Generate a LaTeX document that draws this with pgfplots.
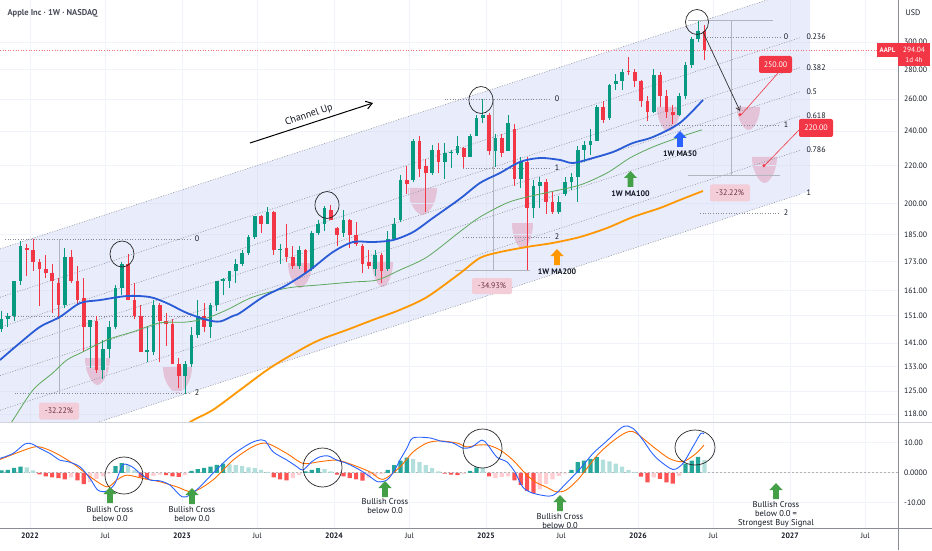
\documentclass[border=0pt]{standalone}
\usepackage{fontspec}
\setmainfont{PT Sans}
\usepackage{pgfplots}
\pgfplotsset{compat=1.18}
\usetikzlibrary{arrows.meta}
\definecolor{bull}{HTML}{089981}
\definecolor{bear}{HTML}{F23645}
\definecolor{gridc}{HTML}{F0F3FA}
\definecolor{chfill}{HTML}{D1D9F7}
\definecolor{chl}{HTML}{9598A1}
\definecolor{fibl}{HTML}{878A94}
\definecolor{measl}{HTML}{B2B5BE}
\definecolor{ma50}{HTML}{2A5BD7}
\definecolor{ma100}{HTML}{5DA85D}
\definecolor{ma200}{HTML}{FF9800}
\definecolor{macdc}{HTML}{2962FF}
\definecolor{sigc}{HTML}{FF6D00}
\definecolor{hdt}{HTML}{26A69A}
\definecolor{hlt}{HTML}{B2DFDB}
\definecolor{hdr}{HTML}{FF5252}
\definecolor{hlr}{HTML}{FFCDD2}
\definecolor{txt}{HTML}{131722}
\definecolor{titc}{HTML}{4A4E5A}
\definecolor{pctc}{HTML}{F3CDD8}
\definecolor{pcttxt}{HTML}{6B3040}
\definecolor{shieldc}{HTML}{F8AEB9}
\definecolor{agreen}{HTML}{43A047}
\definecolor{ablue}{HTML}{2962FF}
\definecolor{aorange}{HTML}{FF9800}
\definecolor{sepc}{HTML}{D1D4DC}
\definecolor{axc}{HTML}{8A8D96}

\newcommand\cndl[5]{%
  \ifdim #5pt<#2pt\def\cc{bear}\else\def\cc{bull}\fi
  \edef\next{\noexpand\addplot[draw=\cc,line width=0.8pt,forget plot] coordinates {(#1,#4)(#1,#3)};%
  \noexpand\addplot[draw=\cc,line width=3.6pt,forget plot] coordinates {(#1,#2)(#1,#5)};}%
  \next}
\newcommand\shieldp[4]{% x, ytop, half width, height (pixel frame)
  \fill[shieldc] ({#1-#3},#2) -- ({#1+#3},#2)
    .. controls ({#1+#3},{#2+0.6*#4}) and ({#1+0.35*#3},{#2+#4}) .. (#1,{#2+#4})
    .. controls ({#1-0.35*#3},{#2+#4}) and ({#1-#3},{#2+0.6*#4}) .. cycle;}
\newcommand\barrow[3]{% x, ytop, color (pixel frame)
  \fill[#3] (#1,#2) -- ({#1+6.5},{#2+7}) -- ({#1+2.8},{#2+7}) -- ({#1+2.8},{#2+16})
   -- ({#1-2.8},{#2+16}) -- ({#1-2.8},{#2+7}) -- ({#1-6.5},{#2+7}) -- cycle;}

\begin{document}
\begin{tikzpicture}
\useasboundingbox (0pt,0pt) rectangle (932pt,550pt);

% pink bottom highlights (behind the translucent channel)
\begin{scope}[x=1pt, y=-1pt, shift={(0pt,550pt)}]
\shieldp{97.5}{358}{12.5}{27}
\shieldp{177.5}{367}{14.5}{26}
\shieldp{300}{263}{12}{25}
\shieldp{422.5}{188}{14.5}{27}
\shieldp{382.5}{262}{10.5}{25}
\shieldp{522.5}{223}{10.5}{26}
\shieldp{668.5}{107}{11.5}{25}
\shieldp{748.5}{107}{11.5}{23}
\shieldp{764.5}{157}{12.5}{26}
\end{scope}

% ================= MAIN PRICE PANEL =================
\begin{axis}[
  at={(0pt,128pt)}, anchor=south west, scale only axis,
  width=898pt, height=422pt,
  xmin=2021.803, xmax=2027.711,
  ymode=log, ymin=115.74, ymax=333.3,
  axis line style={draw=none},
  scaled x ticks=false,
  xtick={2022,2022.496,2023,2023.496,2024,2024.497,2025,2025.496,2026,2026.496,2027,2027.496},
  xticklabels={},
  ytick={118,125,133,141,151,161,173,185,200,220,240,260,280,300},
  yticklabels={118.00,125.00,133.00,141.00,151.00,161.00,173.00,185.00,200.00,220.00,240.00,260.00,280.00,300.00},
  yticklabel pos=right,
  yticklabel style={anchor=west, inner sep=0pt, xshift=6pt, font=\fontsize{7.8}{9}\selectfont, text=txt},
  major tick length=0pt,
  grid=major, grid style={gridc, line width=0.8pt},
]
% channel fill
\addplot[draw=none, fill=chfill, fill opacity=0.5, forget plot] coordinates {(2021.803,178.6)(2027.132,345.1)(2027.132,206.5)(2021.803,106.8)};
% channel levels
\pgfplotsset{chstyle/.style={chl, line width=0.6pt, dash pattern=on 1pt off 1.6pt, forget plot}}
\addplot[chstyle] coordinates {(2021.803,178.6)(2027.066,342.3)};
\addplot[chstyle] coordinates {(2021.803,158.2)(2027.066,303.2)};
\addplot[chstyle] coordinates {(2021.803,146.75)(2027.066,281.3)};
\addplot[chstyle] coordinates {(2021.803,138.1)(2027.066,264.8)};
\addplot[chstyle] coordinates {(2021.803,130.0)(2027.066,249.2)};
\addplot[chstyle] coordinates {(2021.803,119.2)(2027.066,228.6)};
\addplot[chstyle] coordinates {(2021.803,106.8)(2027.066,204.8)};
% fib / measure tools
\pgfplotsset{fibs/.style={fibl, line width=0.6pt, dash pattern=on 1pt off 1.6pt, forget plot},
             meas/.style={measl, line width=0.7pt, forget plot}}
\addplot[fibs] coordinates {(2021.836,182.9)(2023.053,182.9)};
\addplot[fibs] coordinates {(2021.836,150.8)(2023.053,150.8)};
\addplot[fibs] coordinates {(2021.901,124.4)(2023.053,124.4)};
\addplot[meas] coordinates {(2022.191,182.9)(2022.191,124.4)};
\addplot[fibs] coordinates {(2024.730,260.1)(2025.421,260.1)};
\addplot[fibs] coordinates {(2024.849,218.8)(2025.421,218.8)};
\addplot[fibs] coordinates {(2024.849,184.0)(2025.421,184.0)};
\addplot[meas] coordinates {(2025.046,260.1)(2025.046,169.2)};
\addplot[meas] coordinates {(2024.796,169.2)(2025.289,169.2)};
\addplot[meas] coordinates {(2026.329,316.9)(2026.888,316.9)};
\addplot[meas] coordinates {(2026.612,316.9)(2026.612,214.5)};
\addplot[meas] coordinates {(2026.329,214.5)(2026.934,214.5)};
\addplot[fibs] coordinates {(2026.454,303.8)(2026.934,303.8)};
\addplot[fibs] coordinates {(2026.013,243.7)(2026.934,243.7)};
\addplot[fibs] coordinates {(2026.408,195.4)(2026.934,195.4)};
% current price line
\addplot[bear!70, line width=0.6pt, dash pattern=on 1pt off 1.6pt, forget plot] coordinates {(2021.803,294.04)(2027.711,294.04)};
% candles (t, open, high, low, close)
\cndl{2021.8125}{146}{153}{145}{150}
\cndl{2021.8542}{150}{152}{147}{151}
\cndl{2021.8958}{151}{165}{149}{165}
\cndl{2021.9375}{165}{182}{163}{180}
\cndl{2021.9792}{179}{181}{167}{178}
\cndl{2022.0208}{178}{183}{169}{173}
\cndl{2022.0625}{173}{174}{154.7}{170}
\cndl{2022.1042}{170}{176}{166}{168}
\cndl{2022.1458}{168}{172}{152}{165}
\cndl{2022.1875}{164}{166}{150}{155}
\cndl{2022.2292}{155}{179}{154}{175}
\cndl{2022.2708}{175}{178}{164}{165}
\cndl{2022.3125}{165}{171}{155}{157}
\cndl{2022.3542}{158}{166}{138}{147}
\cndl{2022.3958}{147}{149}{132.6}{149.6}
\cndl{2022.4375}{149}{151}{131}{132}
\cndl{2022.4792}{132}{142}{129}{139}
\cndl{2022.5208}{139}{149}{136}{147}
\cndl{2022.5625}{147}{163}{146}{162}
\cndl{2022.6042}{162}{173}{159}{172}
\cndl{2022.6458}{172}{176.2}{157}{157}
\cndl{2022.6875}{157}{164}{150}{151}
\cndl{2022.7292}{151}{155}{138}{138}
\cndl{2022.7708}{138}{147}{134.4}{138.5}
\cndl{2022.8125}{138}{157}{137}{155}
\cndl{2022.8542}{155}{156}{134.4}{149}
\cndl{2022.8958}{149}{152}{140}{148}
\cndl{2022.9375}{148}{150}{134}{134}
\cndl{2022.9792}{134}{136}{126}{130}
\cndl{2023.0208}{130}{135}{124.2}{134}
\cndl{2023.0625}{134}{147}{133}{144}
\cndl{2023.1042}{144}{157}{143}{151}
\cndl{2023.1458}{151}{156}{145}{147}
\cndl{2023.1875}{147}{156}{143}{155}
\cndl{2023.2292}{155}{165}{153}{165}
\cndl{2023.2708}{165}{166}{159}{165.5}
\cndl{2023.3125}{165}{169}{162}{169}
\cndl{2023.3542}{169}{174}{164}{172}
\cndl{2023.3958}{172}{178}{171}{177}
\cndl{2023.4375}{177}{185}{176}{184}
\cndl{2023.4792}{184}{194}{183}{194}
\cndl{2023.5208}{194}{194.5}{186}{190}
\cndl{2023.5625}{190}{198.2}{190}{196}
\cndl{2023.6042}{196}{196.5}{176}{178}
\cndl{2023.6458}{178}{181}{172}{178.6}
\cndl{2023.6875}{179}{190}{173}{175}
\cndl{2023.7292}{175}{180}{170}{171}
\cndl{2023.7708}{171}{180}{170}{178}
\cndl{2023.8125}{178}{178.5}{167.6}{168}
\cndl{2023.8542}{170}{187}{169}{186}
\cndl{2023.8958}{186}{192}{185}{190}
\cndl{2023.9375}{190}{199}{187}{198}
\cndl{2023.9792}{197}{199.6}{192}{192}
\cndl{2024.0208}{188}{188.5}{180}{185}
\cndl{2024.0625}{186}{197}{184}{192}
\cndl{2024.1042}{192}{192.5}{179}{185}
\cndl{2024.1458}{185}{191}{180}{181}
\cndl{2024.1875}{180}{181}{168}{172}
\cndl{2024.2292}{173}{178}{170}{171}
\cndl{2024.2708}{170}{178}{167}{176}
\cndl{2024.3125}{176}{177}{164}{169}
\cndl{2024.3542}{170}{187}{169}{183}
\cndl{2024.3958}{183}{193}{183}{190}
\cndl{2024.4375}{192}{215}{191}{212}
\cndl{2024.4792}{212}{220}{205}{210}
\cndl{2024.5208}{212}{235}{211}{234}
\cndl{2024.5625}{234}{237.2}{214}{218}
\cndl{2024.6042}{220}{224}{196}{216}
\cndl{2024.6458}{216}{232}{215}{229}
\cndl{2024.6875}{229}{233}{216}{222}
\cndl{2024.7292}{222}{233}{213}{227}
\cndl{2024.7708}{227}{229}{219}{227.5}
\cndl{2024.8125}{227}{237}{226}{231}
\cndl{2024.8542}{230}{230.5}{219}{225}
\cndl{2024.8958}{225}{238}{225}{237}
\cndl{2024.9375}{237}{250}{237}{248}
\cndl{2024.9792}{248}{260.1}{245}{250}
\cndl{2025.0208}{250}{251}{226}{228}
\cndl{2025.0625}{228}{238}{219.4}{236}
\cndl{2025.1042}{236}{238}{225}{227}
\cndl{2025.1458}{228}{250}{228}{245}
\cndl{2025.1875}{241}{244}{209}{213}
\cndl{2025.2292}{213}{225}{208}{222}
\cndl{2025.2708}{222}{225}{169.2}{198}
\cndl{2025.3125}{198}{212}{193}{209}
\cndl{2025.3542}{209}{214}{198}{211}
\cndl{2025.3958}{211}{213}{195}{201}
\cndl{2025.4375}{201}{206}{195}{196}
\cndl{2025.4792}{196}{204}{195}{201}
\cndl{2025.5208}{205}{214}{204}{211}
\cndl{2025.5625}{211}{216}{207}{214}
\cndl{2025.6042}{214}{231}{201}{229}
\cndl{2025.6458}{229}{234}{222}{232}
\cndl{2025.6875}{232}{241}{226}{234}
\cndl{2025.7292}{234}{256}{234}{255}
\cndl{2025.7708}{255}{259}{245}{247}
\cndl{2025.8125}{248}{270}{247}{269}
\cndl{2025.8542}{270}{277}{266}{272}
\cndl{2025.8958}{272}{280}{266}{278}
\cndl{2025.9375}{279}{288.6}{276}{278}
\cndl{2025.9792}{278}{280}{268}{272}
\cndl{2026.0208}{272}{273}{255}{259}
\cndl{2026.0625}{259}{262}{246}{252}
\cndl{2026.1042}{252}{280}{251}{276}
\cndl{2026.1458}{276}{278}{255}{262}
\cndl{2026.1875}{262}{266}{248}{252}
\cndl{2026.2292}{252}{256}{244}{250}
\cndl{2026.2708}{250}{264}{249}{262}
\cndl{2026.3125}{262}{285}{260}{283}
\cndl{2026.3542}{283}{304}{281}{302}
\cndl{2026.3958}{302}{316}{300}{308}
\cndl{2026.4375}{308}{313}{287}{294.04}
% moving averages
\addplot[ma100, line width=0.8pt, smooth, forget plot] coordinates {(2021.803,111)(2021.888,116.3)(2022.020,125.4)(2022.151,130.9)(2022.243,135.2)(2022.349,138.0)(2022.507,142.2)(2022.678,145.1)(2022.855,148.4)(2023.033,148.7)(2023.164,150.2)(2023.296,153.3)(2023.467,158.3)(2023.691,161.9)(2023.908,163.2)(2024.125,164.4)(2024.283,165.2)(2024.434,169.4)(2024.612,175.0)(2024.829,186.5)(2024.961,193.5)(2025.138,200.4)(2025.270,203.4)(2025.421,206.0)(2025.618,209.6)(2025.796,216.0)(2025.947,224.3)(2026.099,230.6)(2026.276,236.4)(2026.421,240.7)};
\addplot[ma200, line width=1.8pt, smooth, forget plot] coordinates {(2022.92,111)(2023.053,115.7)(2023.204,119.3)(2023.382,125.4)(2023.579,132.5)(2023.776,138.6)(2023.908,142.2)(2024.086,145.8)(2024.257,149.5)(2024.434,153.3)(2024.612,158.3)(2024.829,168.0)(2024.961,174.6)(2025.092,177.2)(2025.270,179.5)(2025.441,181.3)(2025.618,184.0)(2025.796,188.2)(2025.967,193.5)(2026.145,197.9)(2026.276,201.9)(2026.428,206.5)};
\addplot[ma50, line width=1.8pt, smooth, forget plot] coordinates {(2021.803,135.2)(2021.934,141.1)(2022.066,146.9)(2022.197,150.6)(2022.329,155.9)(2022.461,157.1)(2022.638,158.7)(2022.789,158.3)(2022.901,155.9)(2023.033,152.1)(2023.164,149.5)(2023.250,148.9)(2023.336,151.0)(2023.382,152.1)(2023.533,158.3)(2023.691,163.2)(2023.842,169.4)(2023.993,177.2)(2024.125,181.7)(2024.257,181.7)(2024.388,182.6)(2024.520,186.3)(2024.651,193.0)(2024.829,202.5)(2024.961,210.7)(2025.092,216.0)(2025.224,222.1)(2025.355,224.3)(2025.487,223.2)(2025.572,221.5)(2025.704,224.3)(2025.836,227.7)(2025.967,232.9)(2026.099,236.4)(2026.276,244.9)(2026.428,259.4)};
% target points
\addplot[only marks, mark=*, mark size=1.3pt, color=bear, forget plot] coordinates {(2026.671,250)(2026.829,220)};
\end{axis}

% ================= MACD PANEL =================
\begin{axis}[
  at={(0pt,22pt)}, anchor=south west, scale only axis,
  width=898pt, height=106pt,
  xmin=2021.803, xmax=2027.711,
  ymin=-18.4, ymax=16.9,
  axis line style={draw=none},
  scaled x ticks=false, scaled y ticks=false,
  xtick={2022,2022.496,2023,2023.496,2024,2024.497,2025,2025.496,2026,2026.496,2027,2027.496},
  xticklabels={\textbf{2022},Jul,\textbf{2023},Jul,\textbf{2024},Jul,\textbf{2025},Jul,\textbf{2026},Jul,\textbf{2027},Jul},
  xticklabel style={anchor=north, inner sep=0pt, yshift=-4.5pt, font=\fontsize{7.8}{9}\selectfont, text=txt},
  ytick={-10,0,10},
  yticklabels={-10.00,0.0000,10.00},
  yticklabel pos=right,
  yticklabel style={anchor=west, inner sep=0pt, xshift=6pt, font=\fontsize{7.8}{9}\selectfont, text=txt},
  major tick length=0pt,
  grid=major, grid style={gridc, line width=0.8pt},
]
\addplot[gray!60, line width=0.6pt, dash pattern=on 2pt off 2pt, forget plot] coordinates {(2021.803,0)(2027.711,0)};
\addplot[ybar, bar width=4.2pt, bar shift=0pt, fill=hdt, draw=none, forget plot] coordinates {
(2021.8125,0.8)(2021.8542,1.0)(2021.8958,1.6)(2021.9375,2.0)(2022.5625,2.2)(2022.6042,3.2)
(2023.0625,0.6)(2023.1042,1.2)(2023.1458,1.6)(2023.1875,2.0)(2023.2292,2.6)(2023.2708,3.0)
(2023.8125,0.5)(2023.8542,1.0)(2023.8958,1.5)
(2024.3542,1.0)(2024.3958,2.5)(2024.4375,4.0)(2024.4792,5.0)(2024.8958,0.6)(2024.9375,1.8)
(2025.5625,1.0)(2025.6042,3.5)(2025.6458,4.0)(2025.6875,4.6)(2025.7292,5.2)
(2026.3125,3.0)(2026.3542,4.0)(2026.3958,5.3)};
\addplot[ybar, bar width=4.2pt, bar shift=0pt, fill=hlt, draw=none, forget plot] coordinates {
(2021.9792,1.8)(2022.0208,0.8)(2022.6458,2.5)(2022.6875,0.8)
(2023.3125,2.8)(2023.3542,2.5)(2023.3958,2.2)(2023.4375,1.8)(2023.4792,1.5)(2023.5208,1.0)(2023.5625,0.3)
(2023.9375,1.2)(2023.9792,0.5)
(2024.5208,4.5)(2024.5625,3.5)(2024.6042,2.5)(2024.6458,1.5)(2024.6875,0.5)(2024.9792,1.5)
(2025.7708,4.4)(2025.8125,3.8)(2025.8542,3.0)(2025.8958,2.0)(2025.9375,0.9)(2025.9792,0.3)
(2026.4375,4.2)};
\addplot[ybar, bar width=4.2pt, bar shift=0pt, fill=hdr, draw=none, forget plot] coordinates {
(2022.0625,-0.5)(2022.1042,-1.2)(2022.1458,-1.5)(2022.1875,-1.8)(2022.2292,-2.2)(2022.3125,-2.5)(2022.3542,-3.8)
(2022.7292,-1.5)(2022.7708,-2.2)(2022.8958,-0.8)(2022.9375,-1.2)(2022.9792,-1.4)
(2023.6042,-1.5)(2023.6458,-2.2)(2023.6875,-2.5)
(2024.0208,-0.6)(2024.0625,-1.2)(2024.1042,-1.8)(2024.1458,-2.2)(2024.1875,-2.6)
(2024.7292,-0.3)(2024.7708,-0.6)(2024.8125,-0.8)
(2025.0208,-1.2)(2025.1875,-2.5)(2025.2292,-4.0)(2025.2708,-6.0)(2025.3125,-6.8)
(2026.0208,-1.3)(2026.0625,-3.2)(2026.1458,-2.0)(2026.1875,-3.2)(2026.2292,-3.6)};
\addplot[ybar, bar width=4.2pt, bar shift=0pt, fill=hlr, draw=none, forget plot] coordinates {
(2022.2708,-1.5)(2022.3958,-3.0)(2022.4375,-2.0)(2022.4792,-1.2)(2022.5208,-0.3)
(2022.8125,-1.0)(2022.8542,-0.6)(2023.0208,-0.8)
(2023.7292,-1.8)(2023.7708,-0.8)
(2024.2292,-1.6)(2024.2708,-1.0)(2024.3125,-0.4)(2024.8542,-0.4)
(2025.0625,-1.8)(2025.1042,-1.4)(2025.1458,-1.2)
(2025.3542,-5.5)(2025.3958,-3.8)(2025.4375,-2.2)(2025.4792,-1.0)(2025.5208,-0.3)
(2026.1042,-1.5)(2026.2708,-1.0)};
% signal line
\addplot[sigc, line width=0.9pt, smooth, forget plot] coordinates {(2021.803,4.4)(2021.934,7.0)(2022.046,8.7)(2022.151,7.0)(2022.283,3.1)(2022.395,-1.3)(2022.507,-4.7)(2022.572,-2.4)(2022.638,-0.8)(2022.743,-1.9)(2022.855,-3.0)(2022.967,-4.7)(2023.072,-6.3)(2023.204,-2.4)(2023.336,4.2)(2023.467,8.7)(2023.559,9.8)(2023.691,6.4)(2023.796,3.1)(2023.908,3.7)(2024.020,4.2)(2024.125,2.6)(2024.237,0.3)(2024.322,-2.2)(2024.434,1.9)(2024.520,6.9)(2024.612,9.9)(2024.697,10.6)(2024.809,9.9)(2024.875,8.6)(2024.941,9.2)(2025.013,9.2)(2025.092,7.6)(2025.178,4.2)(2025.270,-0.8)(2025.336,-3.4)(2025.395,-4.7)(2025.461,-6.3)(2025.526,-5.8)(2025.612,-1.9)(2025.743,6.4)(2025.875,12.0)(2025.967,13.7)(2026.099,8.7)(2026.204,4.8)(2026.296,3.7)(2026.382,6.4)(2026.434,9.2)};
% macd line
\addplot[macdc, line width=0.9pt, smooth, forget plot] coordinates {(2021.803,4.8)(2021.888,6.4)(2021.967,9.6)(2022.013,9.6)(2022.066,8.1)(2022.132,6.4)(2022.197,4.2)(2022.250,3.7)(2022.329,2.0)(2022.395,-1.9)(2022.447,-5.8)(2022.507,-6.1)(2022.559,-3.6)(2022.612,2.6)(2022.671,2.0)(2022.724,-0.2)(2022.789,-2.4)(2022.855,-2.7)(2022.921,-4.1)(2023.000,-8.0)(2023.053,-7.4)(2023.118,-4.7)(2023.204,-0.2)(2023.316,5.3)(2023.428,9.2)(2023.493,10.7)(2023.546,10.7)(2023.599,7.0)(2023.691,4.2)(2023.757,2.0)(2023.796,0.9)(2023.855,3.7)(2023.908,5.3)(2023.961,5.6)(2024.020,4.2)(2024.086,3.1)(2024.171,0.9)(2024.237,-1.3)(2024.289,-3.0)(2024.349,-2.4)(2024.395,0.5)(2024.434,4.2)(2024.480,8.2)(2024.520,11.6)(2024.632,11.6)(2024.697,10.6)(2024.783,9.9)(2024.849,8.2)(2024.908,8.6)(2024.974,10.9)(2025.013,9.2)(2025.072,5.2)(2025.138,3.6)(2025.191,0.2)(2025.243,-4.8)(2025.309,-6.8)(2025.414,-7.8)(2025.461,-6.9)(2025.526,-3.6)(2025.612,0.9)(2025.704,6.4)(2025.789,10.3)(2025.901,15.3)(2025.967,14.8)(2026.033,10.9)(2026.086,7.0)(2026.138,4.2)(2026.230,1.1)(2026.296,3.1)(2026.362,8.7)(2026.414,13.1)(2026.434,12.9)};
\end{axis}

% ================= ANNOTATIONS (pixel frame, y down) =================
\begin{scope}[x=1pt, y=-1pt, shift={(0pt,550pt)}, font=\fontsize{8}{9.5}\selectfont, text=txt]
\draw[sepc, line width=0.8pt] (0,422) -- (932,422);
\draw[axc, line width=0.8pt] (0,528) -- (932,528);
\draw[axc, line width=0.8pt] (898,0) -- (898,550);
\node[anchor=west, text=titc, font=\fontsize{8.5}{10}\selectfont\bfseries] at (4,13) {Apple Inc · 1W · NASDAQ};
\node at (913,13) {USD};
% price tag
\fill[bear] (877,43) rectangle (898,57);
\node[text=white, font=\fontsize{6.8}{8}\selectfont\bfseries] at (887.5,50) {AAPL};
\fill[bear] (898,43) rectangle (930,66);
\node[text=white, font=\fontsize{7.5}{8}\selectfont] at (914,49.5) {294.04};
\node[text=white, font=\fontsize{7}{8}\selectfont] at (914,60) {1d 4h};
% channel level labels
\foreach \lab/\yy in {0.236/37, 0.382/68, 0.5/92, 0.618/116, 0.786/150, 1/193}
  \node[anchor=west] at (803,\yy) {\lab};
% fib labels
\node at (197,239) {0}; \node at (197,393) {2};
\node at (557,99) {0}; \node at (557,168) {1}; \node at (557,237) {2};
\node at (786,37) {0}; \node at (786,125) {1}; \node at (786,213) {2};
% top circles
\draw[line width=0.7pt, black!85] (122,254) ellipse [x radius=12, y radius=13];
\draw[line width=0.7pt, black!85] (327,205) ellipse [x radius=12, y radius=13.5];
\draw[line width=0.7pt, black!85] (481,100) ellipse [x radius=12, y radius=13.5];
\draw[line width=0.7pt, black!85] (697,22) ellipse [x radius=11.5, y radius=12.5];
% Channel Up
\draw[line width=1pt, -{Straight Barb[length=6pt,width=8pt]}] (250,143) -- (373,103);
\node[rotate=19, font=\fontsize{10}{12}\selectfont] at (309,115) {Channel Up};
% MA labels
\barrow{680}{131}{ablue}
\node[font=\fontsize{8}{9}\selectfont\bfseries] at (680,154) {1W MA50};
\barrow{630.5}{171}{agreen}
\node[font=\fontsize{8}{9}\selectfont\bfseries] at (630.5,194) {1W MA100};
\barrow{557}{249}{aorange}
\node[font=\fontsize{8}{9}\selectfont\bfseries] at (557,272) {1W MA200};
% percentage boxes
\node[fill=pctc, rounded corners=2pt, text=pcttxt, minimum width=40pt, minimum height=17pt, inner sep=1pt] at (59,411) {-32.22\%};
\node[fill=pctc, rounded corners=2pt, text=pcttxt, minimum width=40pt, minimum height=16pt, inner sep=1pt] at (492,286) {-34.93\%};
\node[fill=pctc, rounded corners=2pt, text=pcttxt, minimum width=40pt, minimum height=17pt, inner sep=1pt] at (730,193) {-32.22\%};
% projection
\draw[line width=0.7pt, black!80, -{Straight Barb[length=4pt,width=5pt]}] (703,32) -- (740,111);
\draw[bear, line width=0.6pt] (741,115) -- (778,73);
\draw[bear, line width=0.6pt] (764,166) -- (799,130);
\node[fill=bear, text=white, rounded corners=2pt, minimum width=33pt, minimum height=17pt, inner sep=1pt] at (775.5,64.5) {250.00};
\node[fill=bear, text=white, rounded corners=2pt, minimum width=34pt, minimum height=18pt, inner sep=1pt] at (816,128) {220.00};
% MACD ellipses
\draw[line width=0.7pt, black!85] (124,475.5) ellipse [x radius=19, y radius=18.5];
\draw[line width=0.7pt, black!85] (322.5,467.5) ellipse [x radius=19.5, y radius=19.5];
\draw[line width=0.7pt, black!85] (482.5,448.5) ellipse [x radius=19.5, y radius=19.5];
\draw[line width=0.7pt, black!85] (695,447.5) ellipse [x radius=20, y radius=17.5];
% MACD arrows and texts
\begin{scope}
\clip (0,422) rectangle (898,528);
\barrow{110}{487}{agreen}
\node[align=center, font=\fontsize{8.5}{9}\selectfont] at (110,514.5) {Bullish Cross\\below 0.0};
\barrow{192}{488}{agreen}
\node[align=center, font=\fontsize{8.5}{9}\selectfont] at (192,514.5) {Bullish Cross\\below 0.0};
\barrow{385}{481}{agreen}
\node[align=center, font=\fontsize{8.5}{9}\selectfont] at (385,506.5) {Bullish Cross\\below 0.0};
\barrow{560}{495}{agreen}
\node[align=center, font=\fontsize{8.5}{9}\selectfont] at (560,521.5) {Bullish Cross\\below 0.0};
\barrow{776}{483}{agreen}
\node[align=center, font=\fontsize{8.5}{9}\selectfont] at (776,514) {Bullish Cross\\below 0.0 =\\Strongest Buy Signal};
\end{scope}
\end{scope}
\end{tikzpicture}
\end{document}
